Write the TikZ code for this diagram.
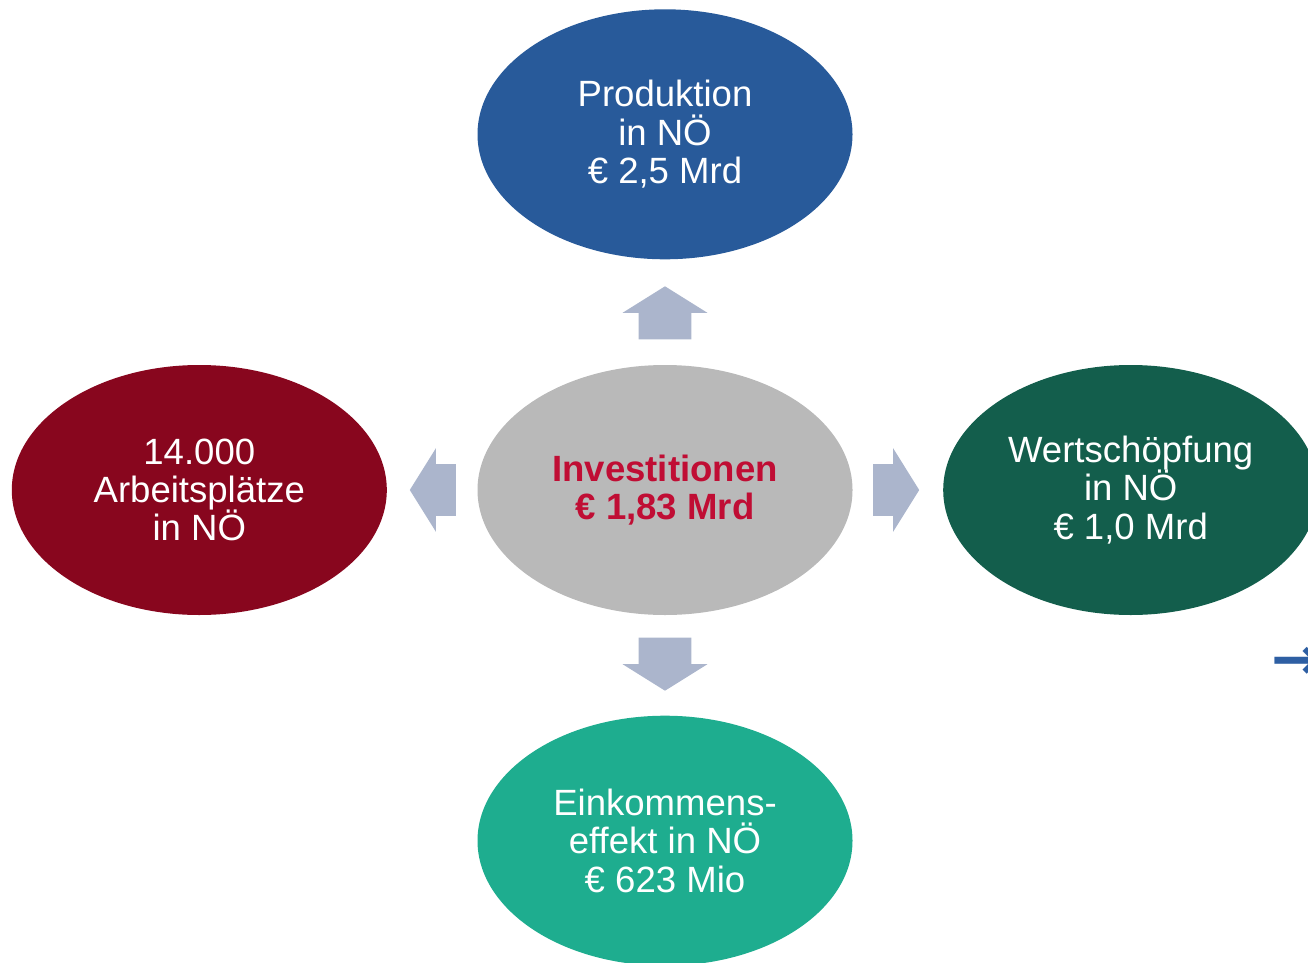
\documentclass[tikz,border=0pt]{standalone}
\usepackage{fontspec}
\setmainfont{Liberation Sans}
\newfontfamily\randschrift{DejaVu Sans}
\usetikzlibrary{shapes.geometric, shapes.arrows, positioning, calc}
\definecolor{blau}{HTML}{285A9A}
\definecolor{weinrot}{HTML}{88061E}
\definecolor{dunkelgruen}{HTML}{135E4C}
\definecolor{tuerkis}{HTML}{1EAD8F}
\definecolor{grau}{HTML}{B9B9B9}
\definecolor{pfeilgrau}{HTML}{ABB5CC}
\definecolor{textrot}{HTML}{C00D34}
\definecolor{randblau}{HTML}{2E5FA3}
\tikzset{
    blase/.style={ellipse, minimum width=7.5cm, minimum height=5cm, inner sep=0pt,
        align=center, text=white, font=\fontsize{20.8}{21.8}\selectfont},
    mitte/.style={blase, fill=grau, text=textrot, font=\bfseries\fontsize{20.8}{21.8}\selectfont},
    pfeil/.style={single arrow, fill=pfeilgrau, single arrow head extend=0.32cm, single arrow tip angle=116},
    pfeil quer/.style={pfeil, inner xsep=0pt, inner ysep=0.51cm, minimum height=0.92cm},
    pfeil hoch/.style={pfeil, inner xsep=0.52cm, inner ysep=0pt, minimum height=1.06cm},
    rand/.style={text=randblau, font=\randschrift\bfseries\fontsize{34}{34}\selectfont, inner sep=0pt, anchor=west}}

\begin{document}
\begin{tikzpicture}
    \useasboundingbox (0,0) rectangle (26.16,-19.26);
    \clip (0,0) rectangle (26.16,-19.26);
    % Mitte
    \node (inv) [mitte] at (13.3,-9.8) {Investitionen\\€ 1,83 Mrd};
    % Ringsum
    \node (prod) [blase, fill=blau, above=2.1cm of inv] {Produktion\\in NÖ\\€ 2,5 Mrd};
    \node (arb) [blase, fill=weinrot, left=1.8cm of inv] {14.000\\Arbeitsplätze\\in NÖ};
    \node (wert) [blase, fill=dunkelgruen, right=1.8cm of inv] {Wertschöpfung\\in NÖ\\€ 1,0 Mrd};
    \node (eink) [blase, fill=tuerkis, below=2cm of inv] {Einkommens-\\effekt in NÖ\\€ 623 Mio};
    % Pfeile
    \node (pf-o) [pfeil hoch, shape border rotate=90, above=0.5cm of inv, anchor=tail] {};
    \node (pf-u) [pfeil hoch, shape border rotate=270, below=0.44cm of inv, anchor=tail] {};
    \node (pf-l) [pfeil quer, shape border rotate=180, left=0.42cm of inv, anchor=tail] {};
    \node (pf-r) [pfeil quer, right=0.4cm of inv, anchor=tail] {};
    % Rest am Rand
    \node (r1) [rand] at (25.42,-13.26) {→};
    \node (r2) [rand] at (26.06,-14.5) {(};
\end{tikzpicture}
\end{document}
